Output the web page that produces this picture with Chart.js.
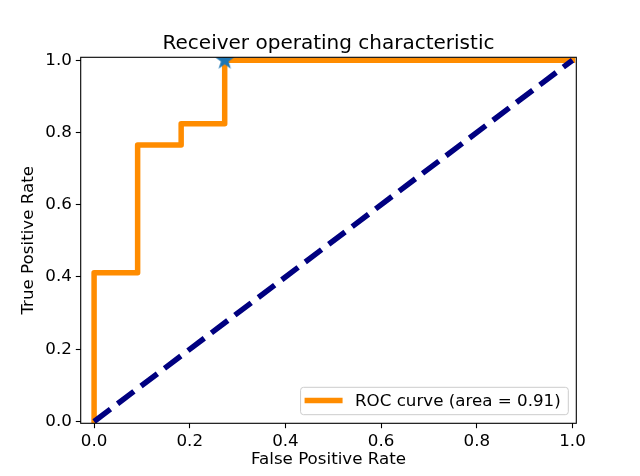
<!DOCTYPE html>
<html>
<head>
<meta charset="utf-8">
<script src="https://cdn.jsdelivr.net/npm/chart.js@4/dist/chart.umd.min.js"></script>
<style>
    html, body { margin: 0; padding: 0; background: #fff; }
</style>
</head>
<body>
<canvas id="roc_chart" width="640" height="476"></canvas>
<script>
// ROC curve
var fpr = [0.0, 0.0, 0.091, 0.091, 0.182, 0.182, 0.273, 0.273, 1.0];
var tpr = [0.0, 0.412, 0.412, 0.765, 0.765, 0.824, 0.824, 1.0, 1.0];
var chanceX = [0.0, 1.0];
var chanceY = [0.0, 1.0];
var bestX = [0.273];
var bestY = [1.0];
var xTicks = [0.0, 0.2, 0.4, 0.6, 0.8, 1.0];
var yTicks = [0.0, 0.2, 0.4, 0.6, 0.8, 1.0];
var rocArea = 0.91;

var font = "'DejaVu Sans', sans-serif";

function toPoints(xs, ys) {
    let pts = [];
    for (var i = 0; i < xs.length; i++) {
        pts.push({x: xs[i], y: ys[i]});
    }
    return pts;
}

// filled 5 point star like matplotlib '*'
function makeStar(r, color) {
    var c = document.createElement('canvas');
    var size = Math.ceil(r * 2 + 2);
    c.width = size;
    c.height = size;
    var g = c.getContext('2d');
    var cx = size / 2, cy = size / 2;
    var inner = r * 0.382;
    g.beginPath();
    for (var i = 0; i < 10; i++) {
        var rad = (i % 2 == 0) ? r : inner;
        var a = -Math.PI / 2 + i * Math.PI / 5;
        var px = cx + rad * Math.cos(a);
        var py = cy + rad * Math.sin(a);
        if (i == 0) g.moveTo(px, py); else g.lineTo(px, py);
    }
    g.closePath();
    g.fillStyle = color;
    g.fill();
    return c;
}

var framePlugin = {
    id: 'frame',
    afterDatasetsDraw: function (chart) {
        var a = chart.chartArea;
        var ctx = chart.ctx;
        ctx.save();
        ctx.strokeStyle = '#000';
        ctx.lineWidth = 1.1;
        ctx.strokeRect(a.left, a.top, a.right - a.left, a.bottom - a.top);

        // title
        ctx.fillStyle = '#000';
        ctx.font = '20px ' + font;
        ctx.textAlign = 'center';
        ctx.textBaseline = 'alphabetic';
        ctx.fillText('Receiver operating characteristic', (a.left + a.right) / 2, 49);

        // legend, lower right
        var label = chart.data.datasets[0].label;
        ctx.font = '16.7px ' + font;
        var tw = ctx.measureText(label).width;
        var right = a.right - 8;
        var bottom = a.bottom - 8.6;
        var h = 27.4;
        var left = right - tw - 62;
        var top = bottom - h;
        ctx.beginPath();
        ctx.roundRect(left, top, right - left, h, 3);
        ctx.fillStyle = 'rgba(255,255,255,0.8)';
        ctx.fill();
        ctx.strokeStyle = '#cccccc';
        ctx.lineWidth = 1;
        ctx.stroke();
        ctx.beginPath();
        ctx.moveTo(left + 4, top + 13.2);
        ctx.lineTo(left + 42, top + 13.2);
        ctx.strokeStyle = '#ff8c00';
        ctx.lineWidth = 5.5;
        ctx.stroke();
        ctx.fillStyle = '#000';
        ctx.textAlign = 'left';
        ctx.textBaseline = 'middle';
        ctx.fillText(label, left + 54.4, top + 14);
        ctx.restore();
    }
};

var tickFont = {family: font, size: 16.7};

var ctx = document.getElementById('roc_chart').getContext('2d');
var rocChart = new Chart(ctx, {
    type: 'scatter',
    data: {
        datasets: [
            {
                label: 'ROC curve (area = ' + rocArea.toFixed(2) + ')',
                data: toPoints(fpr, tpr),
                showLine: true,
                borderColor: '#ff8c00',
                borderWidth: 5.5,
                borderJoinStyle: 'round',
                borderCapStyle: 'square',
                pointRadius: 0,
                order: 3,
            },
            {
                label: 'chance',
                data: toPoints(chanceX, chanceY),
                showLine: true,
                borderColor: '#000080',
                borderWidth: 5.5,
                borderDash: [20.5, 8.9],
                borderCapStyle: 'butt',
                pointRadius: 0,
                order: 2,
            },
            {
                label: 'best',
                data: toPoints(bestX, bestY),
                pointStyle: makeStar(10.5, '#1f77b4'),
                pointRadius: 10,
                showLine: false,
                clip: 0,
                order: 1,
            },
        ],
    },
    options: {
        responsive: false,
        animation: false,
        layout: {
            padding: {left: 0, right: 63.7, top: 57.3, bottom: 0},
        },
        plugins: {
            legend: {display: false},
            tooltip: {enabled: false},
            title: {display: false},
        },
        scales: {
            x: {
                type: 'linear',
                min: -0.028,
                max: 1.008,
                afterBuildTicks: function (scale) {
                    scale.ticks = xTicks.map(function (v) { return {value: v}; });
                },
                afterFit: function (scale) {
                    scale.height = 52.7;
                },
                grid: {
                    drawOnChartArea: false,
                    drawTicks: true,
                    tickLength: 4.9,
                    tickColor: '#000',
                    tickWidth: 1.1,
                },
                border: {display: false},
                ticks: {
                    color: '#000',
                    font: tickFont,
                    padding: 3,
                    maxRotation: 0,
                    callback: function (v) { return v.toFixed(1); },
                },
                title: {
                    display: true,
                    text: 'False Positive Rate',
                    color: '#000',
                    font: tickFont,
                    padding: {top: 0, bottom: 6},
                },
            },
            y: {
                type: 'linear',
                min: -0.005,
                max: 1.008,
                afterBuildTicks: function (scale) {
                    scale.ticks = yTicks.map(function (v) { return {value: v}; });
                },
                afterFit: function (scale) {
                    scale.width = 80.7;
                },
                grid: {
                    drawOnChartArea: false,
                    drawTicks: true,
                    tickLength: 4.9,
                    tickColor: '#000',
                    tickWidth: 1.1,
                },
                border: {display: false},
                ticks: {
                    color: '#000',
                    font: tickFont,
                    padding: 4,
                    callback: function (v) { return v.toFixed(1); },
                },
                title: {
                    display: true,
                    text: 'True Positive Rate',
                    color: '#000',
                    font: tickFont,
                    padding: {top: 19, bottom: 0},
                },
            },
        },
    },
    plugins: [framePlugin],
});
</script>
</body>
</html>
